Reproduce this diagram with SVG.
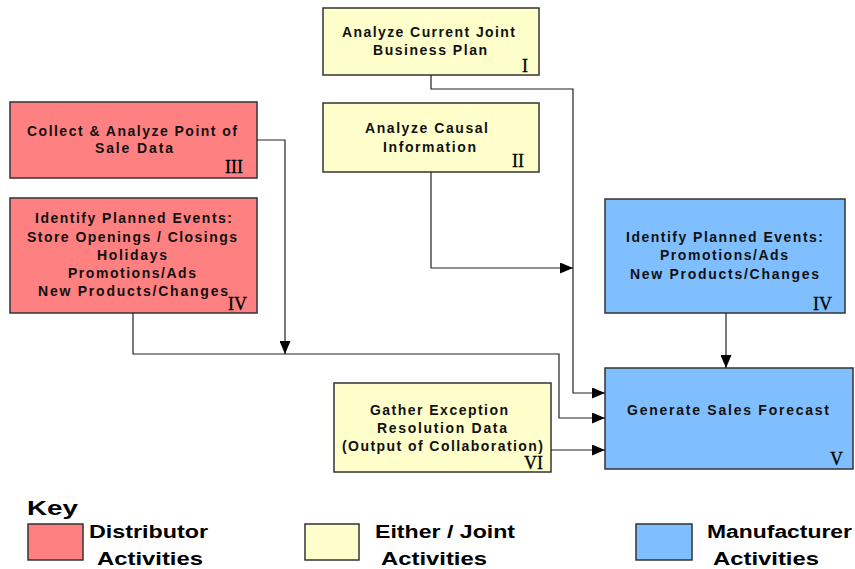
<svg xmlns="http://www.w3.org/2000/svg" width="855" height="569" viewBox="0 0 855 569">
  <style>
    .box { stroke: #333333; stroke-width: 1.5; }
    .dist { fill: #FF8080; }
    .joint { fill: #FFFFCC; }
    .manu { fill: #80BFFF; }
    .lbl { font-family: "Liberation Sans", Arial, sans-serif; font-weight: bold; font-size: 14px; fill: #111111; }
    .num { font-family: "Liberation Serif", "Times New Roman", serif; font-size: 18px; fill: #000000; stroke: #000000; stroke-width: 0.3; }
    .key { font-family: "Liberation Sans", Arial, sans-serif; font-weight: bold; fill: #000000; }
    .wire { fill: none; stroke: #222222; stroke-width: 1.2; }
  </style>
  <defs>
    <marker id="arrow" markerUnits="userSpaceOnUse" markerWidth="13" markerHeight="11" refX="13" refY="5.5" orient="auto">
      <path d="M0,0 L13,5.5 L0,11 z" fill="#000000"/>
    </marker>
  </defs>

  <!-- activity boxes -->
  <g id="node-I">
    <rect class="box joint" x="323" y="8" width="216" height="67"/>
    <text class="lbl" x="342" y="37" textLength="173" lengthAdjust="spacing">Analyze Current Joint</text>
    <text class="lbl" x="373" y="55" textLength="114" lengthAdjust="spacing">Business Plan</text>
    <text class="num" x="522" y="72">I</text>
  </g>

  <g id="node-II">
    <rect class="box joint" x="323" y="103" width="216" height="69"/>
    <text class="lbl" x="365" y="133" textLength="123" lengthAdjust="spacing">Analyze Causal</text>
    <text class="lbl" x="383" y="152" textLength="93" lengthAdjust="spacing">Information</text>
    <text class="num" x="512" y="167">II</text>
  </g>

  <g id="node-III">
    <rect class="box dist" x="10" y="102" width="247" height="76"/>
    <text class="lbl" x="27" y="136" textLength="210" lengthAdjust="spacing">Collect &amp; Analyze Point of</text>
    <text class="lbl" x="95" y="153" textLength="78" lengthAdjust="spacing">Sale Data</text>
    <text class="num" x="225" y="173">III</text>
  </g>

  <g id="node-IV-distributor">
    <rect class="box dist" x="10" y="198" width="247" height="115"/>
    <text class="lbl" x="35" y="223" textLength="197" lengthAdjust="spacing">Identify Planned Events:</text>
    <text class="lbl" x="27" y="242" textLength="210" lengthAdjust="spacing">Store Openings / Closings</text>
    <text class="lbl" x="97" y="260" textLength="70" lengthAdjust="spacing">Holidays</text>
    <text class="lbl" x="68" y="278" textLength="128" lengthAdjust="spacing">Promotions/Ads</text>
    <text class="lbl" x="38" y="296" textLength="190" lengthAdjust="spacing">New Products/Changes</text>
    <text class="num" x="228" y="310">IV</text>
  </g>

  <g id="node-IV-manufacturer">
    <rect class="box manu" x="605" y="199" width="240" height="114"/>
    <text class="lbl" x="626" y="242" textLength="197" lengthAdjust="spacing">Identify Planned Events:</text>
    <text class="lbl" x="660" y="260" textLength="128" lengthAdjust="spacing">Promotions/Ads</text>
    <text class="lbl" x="630" y="279" textLength="189" lengthAdjust="spacing">New Products/Changes</text>
    <text class="num" x="813" y="310">IV</text>
  </g>

  <g id="node-V">
    <rect class="box manu" x="605" y="368" width="248" height="101"/>
    <text class="lbl" x="627" y="415" textLength="202" lengthAdjust="spacing">Generate Sales Forecast</text>
    <text class="num" x="830" y="465">V</text>
  </g>

  <g id="node-VI">
    <rect class="box joint" x="334" y="383" width="217" height="89"/>
    <text class="lbl" x="370" y="415" textLength="138" lengthAdjust="spacing">Gather Exception</text>
    <text class="lbl" x="377" y="433" textLength="130" lengthAdjust="spacing">Resolution Data</text>
    <text class="lbl" x="342" y="451" textLength="201" lengthAdjust="spacing">(Output of Collaboration)</text>
    <text class="num" x="524" y="469" font-size="17">VI</text>
  </g>

  <!-- connectors -->
  <g id="connectors">
    <path class="wire" d="M431,75 V89 H573 V393 H605" marker-end="url(#arrow)"/>
    <path class="wire" d="M431,172 V268 H573" marker-end="url(#arrow)"/>
    <path class="wire" d="M257,140 H285 V354" marker-end="url(#arrow)"/>
    <path class="wire" d="M133,313 V354 H559 V418 H605" marker-end="url(#arrow)"/>
    <path class="wire" d="M726,313 V368" marker-end="url(#arrow)"/>
    <path class="wire" d="M551,450 H605" marker-end="url(#arrow)"/>
  </g>

  <!-- legend -->
  <g id="legend">
    <text class="key" x="27" y="515" font-size="21" textLength="51" lengthAdjust="spacingAndGlyphs">Key</text>
    <rect class="box dist" x="28" y="524" width="55" height="36"/>
    <text class="key" x="89" y="538" font-size="18" textLength="119" lengthAdjust="spacingAndGlyphs">Distributor</text>
    <text class="key" x="97" y="565" font-size="18" textLength="106" lengthAdjust="spacingAndGlyphs">Activities</text>
    <rect class="box joint" x="305" y="524" width="54" height="36"/>
    <text class="key" x="375" y="538" font-size="18" textLength="140" lengthAdjust="spacingAndGlyphs">Either / Joint</text>
    <text class="key" x="381" y="565" font-size="18" textLength="106" lengthAdjust="spacingAndGlyphs">Activities</text>
    <rect class="box manu" x="636" y="524" width="56" height="36"/>
    <text class="key" x="707" y="538" font-size="18" textLength="145" lengthAdjust="spacingAndGlyphs">Manufacturer</text>
    <text class="key" x="713" y="565" font-size="18" textLength="106" lengthAdjust="spacingAndGlyphs">Activities</text>
  </g>
</svg>
